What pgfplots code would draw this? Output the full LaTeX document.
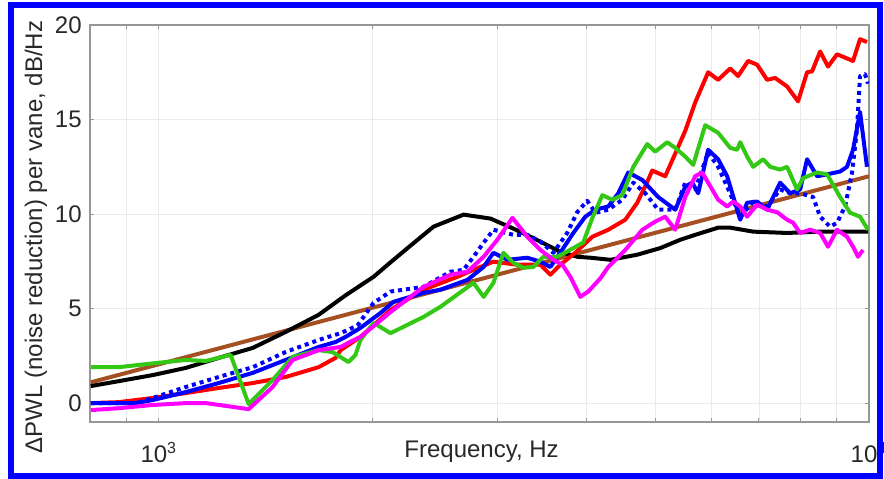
\documentclass[border=0pt]{standalone}
\usepackage{fontspec}
\setmainfont{Liberation Sans}
\usepackage{pgfplots}
\pgfplotsset{compat=1.18}
\definecolor{mgreen}{RGB}{50,200,20}
\definecolor{mbrown}{RGB}{165,80,35}
\definecolor{mmag}{RGB}{255,0,255}
\definecolor{axgray}{RGB}{150,150,150}
\definecolor{txtgray}{RGB}{40,40,40}
\definecolor{gridgray}{RGB}{234,234,234}
\definecolor{frameblue}{RGB}{0,0,255}
\begin{document}
\fontsize{12}{14}\selectfont
\begin{tikzpicture}
\begin{axis}[
  at={(0,0)}, anchor=south west,
  scale only axis, width=389.5pt, height=198.5pt,
  xmode=log, xmin=800, xmax=10000, ymin=-1, ymax=20,
  xtick={1000,10000}, xticklabels={10\textsuperscript{3},10\textsuperscript{4}},
  minor xtick={900,2000,3000,4000,5000,6000,7000,8000,9000},
  ytick={0,5,10,15,20}, yticklabels={0,5,10,15,20},
  grid=both,
  major grid style={gridgray, line width=0.4pt},
  minor grid style={gridgray, line width=0.4pt},
  axis line style={axgray, line width=0.6pt},
  tick style={axgray, line width=0.5pt},
  major tick length=2pt, minor tick length=2pt,
  tick align=inside,
  xticklabel style={anchor=base, yshift=-20pt, text=txtgray},
  yticklabel style={text=txtgray},
  xlabel={Frequency, Hz},
  ylabel={ΔPWL (noise reduction) per vane, dB/Hz},
  xlabel style={at={(rel axis cs:0.5026,-0.0882)}, anchor=base, text=txtgray},
  ylabel style={at={(rel axis cs:-0.0693,0.466)}, anchor=center, text=txtgray},
  every axis plot/.append style={line width=2pt, line join=round},
]
\addplot[mbrown] table {
802 1.1
10000 12.0
};
\addplot[black] table {
802 0.9
884 1.18
980 1.48
1091 1.86
1214 2.39
1356 2.92
1508 3.76
1679 4.67
1832 5.7
2006 6.68
2120 7.45
2240 8.2
2436 9.33
2686 9.97
2931 9.76
3157 9.23
3446 8.54
3676 8.0
3883 7.74
4052 7.69
4323 7.58
4717 7.85
5082 8.2
5423 8.64
5692 8.9
6131 9.28
6376 9.28
6869 9.07
7667 9.0
8534 9.07
9967 9.07
};
\addplot[red] table {
802 0
878 0.05
980 0.27
1091 0.53
1214 0.8
1356 1.06
1508 1.38
1679 1.9
1773 2.39
1803 2.8
1923 3.5
2120 4.93
2359 6.0
2633 6.68
2774 7.05
2959 7.48
3198 7.32
3446 7.32
3559 6.79
3676 7.32
3858 7.95
4078 8.8
4294 9.17
4537 9.7
4717 10.6
4872 11.7
4952 12.3
5164 12.0
5335 13.2
5511 14.4
5692 15.9
5936 17.5
6131 17.1
6376 17.7
6542 17.3
6757 18.1
6957 17.9
7187 17.1
7376 17.2
7667 16.75
7945 15.96
8181 17.5
8316 17.55
8534 18.6
8756 17.8
9015 18.45
9495 18.1
9713 19.25
9934 19.1
};
\addplot[blue] table {
802 0.0
928 0.0
980 0.16
1091 0.58
1214 1.06
1356 1.6
1508 2.28
1679 2.97
1773 3.23
1832 3.5
1923 3.98
2052 4.77
2141 5.36
2359 5.83
2493 6.0
2720 6.52
2866 7.2
2959 7.95
3096 7.58
3302 7.69
3446 7.48
3559 7.2
3712 8.2
3834 9.0
3986 9.86
4118 10.23
4294 10.4
4435 11.1
4581 12.2
4795 11.8
5048 10.9
5335 10.23
5511 11.45
5637 11.66
5747 11.1
5936 13.4
6131 12.9
6313 12.0
6586 9.7
6736 10.6
6957 10.66
7187 10.23
7497 11.66
7744 11.1
7999 11.3
8181 12.9
8450 12.0
8728 12.1
9105 12.25
9312 12.5
9495 13.4
9713 15.4
9934 12.5
};
\addplot[blue, line cap=butt, dash pattern=on 2pt off 2pt] table {
802 0.0
928 0.0
980 0.27
1091 0.85
1214 1.38
1356 1.9
1508 2.7
1679 3.34
1803 3.7
1904 4.1
2006 5.3
2120 5.9
2359 6.15
2575 6.95
2686 7.05
2774 7.74
2866 8.48
2959 9.17
3157 8.9
3302 8.9
3446 8.54
3594 7.95
3759 9.0
3883 10.1
4011 10.7
4118 10.07
4294 10.23
4494 10.76
4657 11.66
4841 11.1
5048 10.23
5335 10.23
5511 11.66
5692 11.3
5936 13.26
6131 12.5
6313 11.45
6586 9.86
6869 10.66
7187 10.4
7497 11.3
7744 11.1
7999 11.1
8342 10.9
8534 9.86
8815 9.33
9015 9.54
9253 10.4
9465 12.2
9618 14.47
9713 17.3
9870 17.4
9967 16.9
};
\addplot[mgreen] table {
802 1.9
878 1.9
980 2.1
1091 2.28
1165 2.23
1262 2.55
1338 -0.05
1446 1.22
1543 2.44
1679 2.8
1756 2.7
1850 2.17
1892 2.55
1923 3.34
2006 4.24
2120 3.7
2359 4.56
2493 5.1
2774 6.36
2866 5.62
2959 6.36
3056 7.95
3157 7.42
3260 7.16
3368 7.2
3479 7.74
3640 7.74
3834 8.2
3960 8.5
4078 9.8
4212 11.0
4351 10.76
4494 11.0
4657 12.5
4872 13.7
5000 13.3
5197 13.8
5335 13.5
5511 13.04
5655 12.6
5880 14.7
6131 14.3
6376 13.5
6521 13.4
6586 13.8
6736 13.04
6869 12.5
7095 12.9
7258 12.5
7497 12.35
7667 12.5
7920 11.3
8077 11.9
8450 12.2
8728 12.1
9105 10.9
9404 10.07
9713 9.86
9967 9.17
};
\addplot[mmag] table {
802 -0.37
878 -0.27
980 -0.1
1091 0.0
1165 0.0
1338 -0.32
1446 0.85
1543 2.28
1679 2.8
1803 2.97
1874 3.3
1923 3.5
2120 4.82
2359 6.15
2575 6.79
2720 6.95
2866 7.74
2997 8.64
3147 9.8
3302 8.8
3446 8.1
3594 7.58
3700 7.32
3797 6.68
3922 5.62
4024 5.9
4185 6.6
4294 7.2
4537 8.1
4795 9.17
5000 9.6
5164 9.86
5335 9.17
5511 10.9
5692 12.0
5824 12.2
5936 11.66
6131 10.76
6313 10.4
6438 10.66
6586 10.4
6736 9.86
6957 10.5
7187 10.23
7423 10.1
7667 9.7
7819 9.54
7999 9.0
8262 9.17
8534 9.0
8756 8.27
9015 9.17
9312 8.8
9495 8.27
9649 7.74
9807 8.1
};
\end{axis}
\draw[frameblue, line width=3pt] (-39.25pt,-27pt) rectangle (395pt,208.5pt);
\pgfresetboundingbox
\useasboundingbox (-45pt,-28pt) rectangle (397pt,211pt);
\end{tikzpicture}
\end{document}
